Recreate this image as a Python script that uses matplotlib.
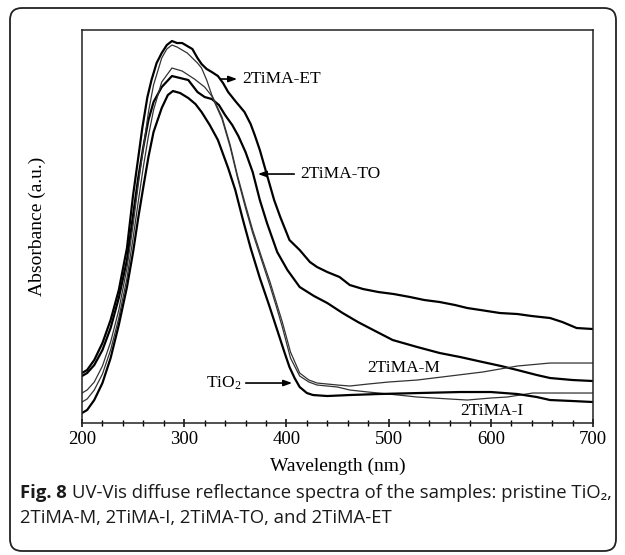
import matplotlib
matplotlib.use("Agg")
import matplotlib.pyplot as plt
from matplotlib.patches import FancyBboxPatch
from matplotlib.transforms import IdentityTransform
from matplotlib.ticker import MultipleLocator, NullLocator

plt.rcParams['font.family'] = 'Liberation Serif'
plt.rcParams['mathtext.fontset'] = 'custom'
plt.rcParams['mathtext.rm'] = 'Liberation Serif'
plt.rcParams['mathtext.it'] = 'Liberation Serif:italic'

# spectra (wavelength in nm, absorbance in a.u.)
wl_et = [200, 205, 212, 220, 228, 236, 244, 250, 255, 259, 264, 268, 273, 278, 283, 288, 293, 298,
         303, 308, 313, 317, 322, 327, 333, 338, 343, 350, 359, 365, 369, 374, 381, 388, 394, 403,
         413, 423, 430, 440, 452, 462, 475, 490, 505, 521, 535, 550, 565, 577, 590, 609, 626, 640,
         658, 670, 684, 700]
abs_et = [50, 53, 63, 80, 103, 133, 175, 228, 265, 295, 326, 343, 360, 370, 378, 382, 380, 380,
          377, 374, 365, 359, 354, 351, 347, 340, 331, 322, 311, 299, 288, 273, 248, 223, 206, 183,
          173, 161, 156, 151, 146, 138, 134, 131, 129, 126, 123, 121, 118, 115, 113, 110, 109, 107,
          105, 101, 95, 94]

wl_to = [200, 205, 212, 220, 228, 236, 244, 250, 255, 260, 265, 270, 278, 288, 296, 304, 313, 320,
         327, 334, 340, 347, 353, 360, 367, 374, 381, 391, 401, 413, 427, 440, 455, 470, 485, 504,
         528, 550, 570, 592, 610, 626, 645, 658, 680, 700]
abs_to = [47, 50, 58, 73, 95, 125, 163, 208, 245, 276, 303, 321, 336, 347, 345, 343, 331, 326,
          324, 318, 308, 298, 287, 271, 251, 223, 200, 171, 153, 136, 127, 120, 110, 101, 93, 83,
          76, 70, 66, 61, 57, 53, 48, 45, 43, 42]

wl_m = [200, 205, 212, 220, 228, 236, 244, 250, 255, 260, 265, 270, 278, 283, 288, 293, 298, 303,
        308, 313, 317, 322, 327, 337, 345, 352, 360, 367, 376, 384, 390, 396, 404, 413, 422, 430,
        450, 462, 480, 500, 528, 560, 592, 626, 658, 700]
abs_m = [30, 33, 41, 57, 81, 113, 155, 198, 238, 275, 311, 338, 365, 374, 378, 376, 373, 370,
         365, 360, 355, 343, 328, 306, 278, 248, 218, 193, 165, 141, 121, 101, 71, 50, 43, 40,
         38, 37, 39, 41, 43, 47, 51, 57, 60, 60]

wl_i = [200, 205, 212, 220, 228, 236, 244, 250, 255, 260, 265, 270, 278, 288, 298, 310, 320, 327,
        337, 345, 352, 360, 367, 376, 384, 390, 396, 404, 413, 422, 430, 450, 462, 480, 500, 528,
        560, 577, 600, 616, 641, 670, 700]
abs_i = [21, 24, 33, 49, 73, 105, 145, 185, 221, 256, 287, 313, 341, 355, 352, 344, 336, 327,
         304, 276, 246, 215, 190, 162, 137, 117, 96, 65, 47, 41, 38, 36, 33, 31, 29, 26,
         24, 23, 25, 26, 30, 30, 30]

wl_tio2 = [200, 205, 212, 220, 228, 236, 244, 250, 255, 260, 265, 270, 278, 284, 289, 296, 304,
           311, 317, 325, 333, 343, 350, 357, 365, 374, 383, 391, 398, 403, 408, 413, 420, 426,
           440, 462, 490, 530, 570, 600, 626, 645, 658, 680, 700]
abs_tio2 = [10, 13, 23, 40, 65, 98, 136, 171, 205, 236, 266, 291, 315, 328, 332, 330, 325,
            319, 311, 298, 283, 255, 233, 205, 175, 145, 118, 93, 71, 56, 45, 36, 30, 28,
            27, 28, 29, 30, 31, 31, 29, 26, 23, 22, 21]

fig = plt.figure(figsize=(6.25, 5.55), dpi=100)
ax = fig.add_axes([0.1312, 0.2378, 0.8176, 0.7081])

thick = dict(color='black', lw=1.6)
thin = dict(color='#333333', lw=0.9)
ax.plot(wl_et, abs_et, **thick)
ax.plot(wl_to, abs_to, **thick)
ax.plot(wl_m, abs_m, **thin)
ax.plot(wl_i, abs_i, **thin)
ax.plot(wl_tio2, abs_tio2, **thick)

ax.set_xlim(200, 700)
ax.set_ylim(0, 393)
ax.xaxis.set_major_locator(MultipleLocator(100))
ax.xaxis.set_minor_locator(MultipleLocator(20))
ax.yaxis.set_major_locator(NullLocator())
ax.tick_params(axis='x', which='major', direction='inout', length=6, width=1.1,
               labelsize=13.5, pad=3)
ax.tick_params(axis='x', which='minor', direction='inout', length=5, width=1.0)
for s in ax.spines.values():
    s.set_linewidth(1.1)
    s.set_color('#222222')

ax.set_xlabel('Wavelength (nm)', fontsize=14, labelpad=7)
ax.set_ylabel('Absorbance (a.u.)', fontsize=14, labelpad=26)

# curve labels and arrows
lab = dict(fontsize=12.5, va='center')
arr = dict(arrowstyle='-|>,head_length=0.5,head_width=0.18', color='black', lw=1.2)
ax.text(356.5, 344, '2TiMA-ET', ha='left', **lab)
ax.annotate('', xy=(354.6, 344), xytext=(333, 344), arrowprops=arr)
ax.text(413.3, 249, '2TiMA-TO', ha='left', **lab)
ax.annotate('', xy=(369.3, 249), xytext=(410.4, 249), arrowprops=arr)
ax.text(356.5, 40, 'TiO$_2$', ha='right', **lab)
ax.annotate('', xy=(408.4, 40), xytext=(357.5, 40), arrowprops=arr)
ax.text(478.9, 55, '2TiMA-M', ha='left', **lab)
ax.text(569.9, 12, '2TiMA-I', ha='left', **lab)

# caption
cap_font = ['Open Sans', 'DejaVu Sans']
cap_size = 13.3
t1 = fig.text(20 / 625, 1 - 493 / 555, 'Fig. 8', fontsize=cap_size, fontweight='bold',
              family=cap_font, va='center', color='#1a1a1a')
fig.canvas.draw()
bb = t1.get_window_extent()
fig.text((bb.x1 + 5) / 625, 1 - 493 / 555,
         'UV-Vis diffuse reflectance spectra of the samples: pristine TiO\u2082,',
         fontsize=cap_size, family=cap_font, va='center', color='#1a1a1a')
fig.text(20 / 625, 1 - 518 / 555, '2TiMA-M, 2TiMA-I, 2TiMA-TO, and 2TiMA-ET',
         fontsize=cap_size, family=cap_font, va='center', color='#1a1a1a')

# rounded frame around the figure panel
frame = FancyBboxPatch((10, 555 - 551), 606, 543, boxstyle='round,pad=0,rounding_size=12',
                       transform=IdentityTransform(), fill=False, lw=1.3, ec='#222222')
fig.add_artist(frame)

fig.savefig('out.png', dpi=100)
